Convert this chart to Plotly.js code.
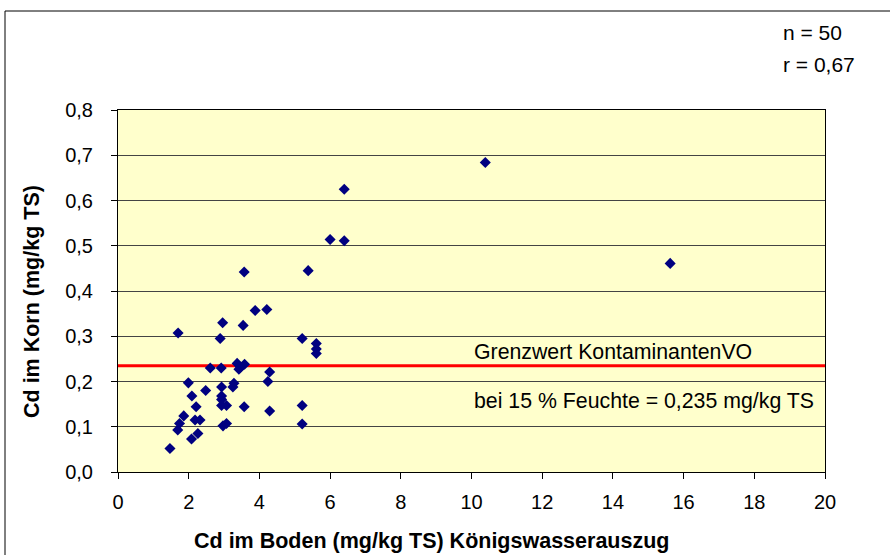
<!DOCTYPE html>
<html>
<head>
<meta charset="utf-8">
<script src="https://cdn.plot.ly/plotly-3.0.1.min.js"></script>
<style>html,body{margin:0;padding:0;background:#fff;}#chart{width:890px;height:555px;}</style>
</head>
<body>
<div id="chart"></div>
<script>
// Cd im Boden (mg/kg TS) Königswasserauszug
var soilCd = [3.57, 5.38, 3.88, 4.21, 2.96, 3.54, 1.70, 2.89, 5.21, 5.61,
              5.61, 5.61, 2.61, 2.92, 3.37, 3.58, 3.42, 3.47, 4.29, 1.99,
              4.24, 3.28, 3.25, 2.93, 2.48, 2.09, 2.93, 2.93, 2.21, 2.93,
              3.07, 3.57, 5.21, 4.29, 1.86, 1.74, 1.69, 2.18, 2.32, 2.97,
              3.07, 5.21, 2.26, 2.08, 1.47, 6.40, 6.00, 6.40, 10.39, 15.62];
// Cd im Korn (mg/kg TS)
var grainCd = [0.442, 0.445, 0.357, 0.359, 0.330, 0.324, 0.307, 0.295, 0.295, 0.284,
               0.272, 0.262, 0.230, 0.230, 0.240, 0.238, 0.227, 0.232, 0.221, 0.197,
               0.200, 0.196, 0.188, 0.188, 0.180, 0.168, 0.168, 0.160, 0.144, 0.147,
               0.147, 0.144, 0.147, 0.135, 0.124, 0.107, 0.093, 0.115, 0.115, 0.102,
               0.107, 0.106, 0.085, 0.073, 0.052, 0.625, 0.514, 0.511, 0.684, 0.461];
// Grenzwert KontaminantenVO
var limitX = [0, 20];
var limitY = [0.235, 0.235];
var xTicks = [0, 2, 4, 6, 8, 10, 12, 14, 16, 18, 20];
var yTicks = [0.0, 0.1, 0.2, 0.3, 0.4, 0.5, 0.6, 0.7, 0.8];
var yTickText = ["0,0", "0,1", "0,2", "0,3", "0,4", "0,5", "0,6", "0,7", "0,8"];
var xTitle = "Cd im Boden (mg/kg TS) Königswasserauszug";
var yTitle = "Cd im Korn (mg/kg TS)";
var stats = ["n = 50", "r = 0,67"];
var limitLabels = ["Grenzwert KontaminantenVO", "bei 15 % Feuchte = 0,235 mg/kg TS"];

var W = 890, H = 555;
var m = {l: 118, r: 65, t: 110, b: 83};
var pw = W - m.l - m.r, ph = H - m.t - m.b;
function px2paperX(px) { return (px - m.l) / pw; }
function px2paperY(py) { return (H - m.b - py) / ph; }

var font = "Liberation Sans, Arial, sans-serif";

var traces = [
  {
    x: limitX, y: limitY, type: "scatter", mode: "lines",
    line: {color: "#ff0000", width: 3}, hoverinfo: "skip", showlegend: false
  },
  {
    x: soilCd, y: grainCd, type: "scatter", mode: "markers",
    marker: {symbol: "diamond", size: 8.5, color: "#000080", line: {width: 0}},
    showlegend: false
  }
];

var layout = {
  width: W, height: H,
  margin: m,
  paper_bgcolor: "#ffffff",
  plot_bgcolor: "#ffffcc",
  separators: ", ",
  font: {family: font, size: 20, color: "#000"},
  xaxis: {
    range: [0, 20], tickvals: xTicks, ticktext: xTicks.map(String),
    showgrid: false, zeroline: false,
    showline: true, linecolor: "#000", linewidth: 1, mirror: true,
    ticks: "outside", ticklen: 6, tickcolor: "#000",
    ticklabelstandoff: 6,
    tickfont: {family: font, size: 20, color: "#000"}
  },
  yaxis: {
    range: [0, 0.8], tickvals: yTicks, ticktext: yTickText,
    showgrid: true, gridcolor: "#444", gridwidth: 1, zeroline: false,
    showline: true, linecolor: "#000", linewidth: 1, mirror: true,
    ticks: "outside", ticklen: 6, tickcolor: "#000",
    ticklabelstandoff: 14,
    tickfont: {family: font, size: 20, color: "#000"}
  },
  annotations: [
    {xref: "paper", yref: "paper", x: px2paperX(431), y: px2paperY(541), xanchor: "center", yanchor: "middle",
     text: "<b>" + xTitle + "</b>", showarrow: false, font: {family: font, size: 21.5, color: "#000"}},
    {xref: "paper", yref: "paper", x: px2paperX(32), y: px2paperY(302), xanchor: "center", yanchor: "middle",
     textangle: -90, text: "<b>" + yTitle + "</b>", showarrow: false, font: {family: font, size: 21.5, color: "#000"}},
    {xref: "paper", yref: "paper", x: px2paperX(781), y: px2paperY(33), xanchor: "left", yanchor: "middle",
     text: stats[0], showarrow: false, font: {family: font, size: 21, color: "#000"}},
    {xref: "paper", yref: "paper", x: px2paperX(781), y: px2paperY(65), xanchor: "left", yanchor: "middle",
     text: stats[1], showarrow: false, font: {family: font, size: 21, color: "#000"}},
    {xref: "paper", yref: "paper", x: px2paperX(472), y: px2paperY(352), xanchor: "left", yanchor: "middle",
     text: limitLabels[0], showarrow: false, font: {family: font, size: 21.3, color: "#000"}},
    {xref: "paper", yref: "paper", x: px2paperX(472), y: px2paperY(401), xanchor: "left", yanchor: "middle",
     text: limitLabels[1], showarrow: false, font: {family: font, size: 21.3, color: "#000"}}
  ],
  shapes: [
    {type: "rect", xref: "paper", yref: "paper",
     x0: px2paperX(5), x1: px2paperX(900), y0: px2paperY(570), y1: px2paperY(11),
     line: {color: "#000", width: 1}, fillcolor: "rgba(0,0,0,0)", layer: "below"}
  ]
};

Plotly.newPlot("chart", traces, layout, {displayModeBar: false, staticPlot: true});
</script>
</body>
</html>
